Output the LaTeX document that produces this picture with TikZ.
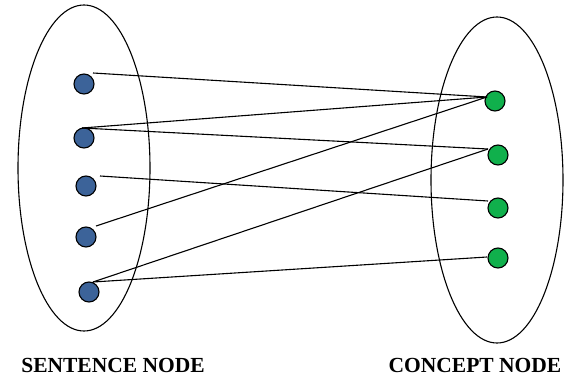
\documentclass[tikz,border=0pt]{standalone}
\usepackage{fontspec}
\setmainfont{Liberation Serif}
\usetikzlibrary{calc}
\definecolor{sentblue}{HTML}{3C6399}
\definecolor{conceptgreen}{HTML}{10B04C}
\tikzset{
  sent/.style={circle, draw=black, line width=1.1pt, fill=sentblue, minimum size=20pt, inner sep=0pt},
  concept/.style={circle, draw=black, line width=1.1pt, fill=conceptgreen, minimum size=20pt, inner sep=0pt},
  link/.style={draw=black, line width=1.1pt},
  caption/.style={font=\bfseries\fontsize{21.5}{23}\selectfont, inner sep=0pt}
}
\begin{document}
\begin{tikzpicture}[x=1pt, y=-1pt]
  \useasboundingbox (0,0) rectangle (573,380);
  % the two sets
  \draw[line width=1.1pt] (84,168) ellipse [x radius=66, y radius=163];
  \draw[line width=1.1pt] (497,180) ellipse [x radius=66, y radius=163];
  % sentence nodes
  \node[sent] (s1) at (84,84) {};
  \node[sent] (s2) at (84,138) {};
  \node[sent] (s3) at (86,186) {};
  \node[sent] (s4) at (86,237) {};
  \node[sent] (s5) at (89,292) {};
  % concept nodes
  \node[concept] (c1) at (495,101) {};
  \node[concept] (c2) at (498,155) {};
  \node[concept] (c3) at (498,208) {};
  \node[concept] (c4) at (498,258) {};
  % links between sentences and concepts
  \draw[link] ($(s1)+(9,-11)$) -- ($(c1)+(-8,-4)$);
  \draw[link] ($(s2)+(-2,-10)$) -- ($(c1)+(-8,-4)$);
  \draw[link] ($(s2)+(-2,-10)$) -- ($(c2)+(-10,-6)$);
  \draw[link] ($(s3)+(14,-10)$) -- ($(c3)+(-10,-7)$);
  \draw[link] ($(s4)+(10,-11)$) -- ($(c1)+(-8,-4)$);
  \draw[link] ($(s5)+(4,-10)$) -- ($(c2)+(-10,-6)$);
  \draw[link] ($(s5)+(4,-10)$) -- ($(c4)+(-11,-1)$);
  % captions
  \node[caption, anchor=base] (lblS) at (113,372) {SENTENCE NODE};
  \node[caption, anchor=base] (lblC) at (475,372) {CONCEPT NODE};
\end{tikzpicture}
\end{document}
